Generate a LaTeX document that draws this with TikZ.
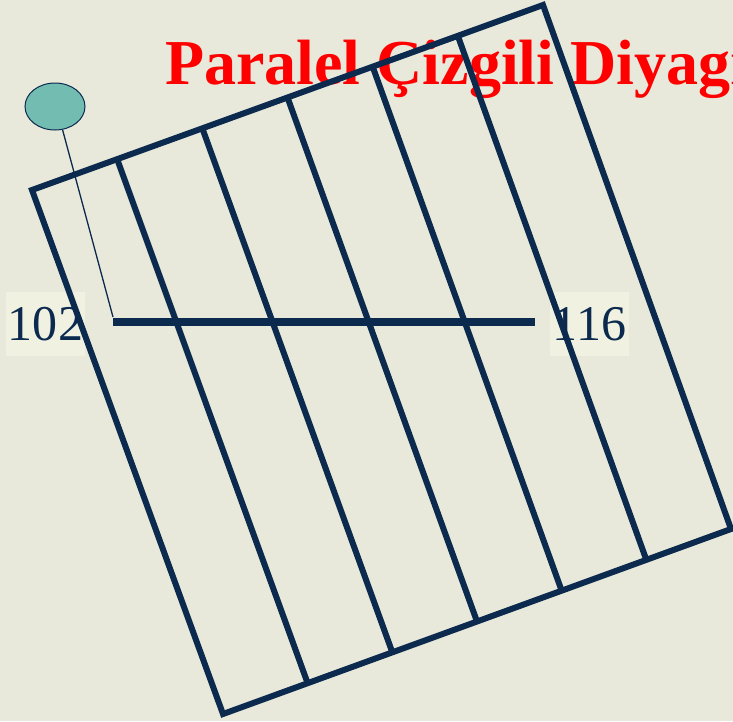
\documentclass[tikz,border=0pt]{standalone}
\usepackage{fontspec}
\setmainfont{Liberation Serif}
\usepackage{xcolor}
\usetikzlibrary{calc, positioning, shapes.geometric}

\definecolor{navy}{HTML}{0B2A4E}
\definecolor{paper}{HTML}{E9E9DB}
\definecolor{labbg}{HTML}{F0F1E1}
\definecolor{pin}{HTML}{72BCB1}

\begin{document}
\begin{tikzpicture}[
    x=1pt, y=-1pt,
    frame/.style={draw=navy, line width=6pt, line join=miter},
    scaleline/.style={draw=navy, line width=8pt},
    pinline/.style={draw=navy, line width=1.3pt},
    numlab/.style={fill=labbg, text=navy, inner sep=0pt,
        minimum width=79pt, minimum height=64pt,
        font=\fontsize{50}{50}\selectfont},
    title/.style={text=red, font=\fontsize{64}{64}\selectfont\bfseries, inner sep=0pt},
]

% -------------------------------------------------
% Page and background
% -------------------------------------------------
\useasboundingbox (0,0) rectangle (733,721);
\clip (0,0) rectangle (733,721);
\fill[paper] (0,0) rectangle (733,721);

% Title (runs off the right side)
\node[title, anchor=base west] (ttl) at (165,84) {Paralel Çizgili Diyagram};

% Value labels
\node[numlab] (l102) at (45.5,324) {102};
\node[numlab] (l116) at (589.5,324) {116};

% -------------------------------------------------
% Tilted frame, split into six strips
% -------------------------------------------------
\coordinate (tl) at (32,190);
\coordinate (tr) at (543,5);
\coordinate (br) at (731,529);
\coordinate (bl) at (223,714);

\draw[frame] (tl) -- (tr) -- (br) -- (bl) -- cycle;
\foreach \i in {1,...,5}
    \draw[frame] ($(tl)!\i/6!(tr)$) -- ($(bl)!\i/6!(br)$);

% Scale line between 102 and 116
\coordinate (sa) at (113,322);
\coordinate (sb) at (535,322);
\draw[scaleline] (sa) -- (sb);

% Pin marker
\node[draw=navy, line width=1pt, fill=pin, ellipse, inner sep=0pt,
      minimum width=60pt, minimum height=47pt] (pinhead) at (55,106.5) {};
\coordinate (pinfoot) at (113,317);
\draw[pinline] (pinhead.-72) -- (pinfoot);

\end{tikzpicture}
\end{document}
